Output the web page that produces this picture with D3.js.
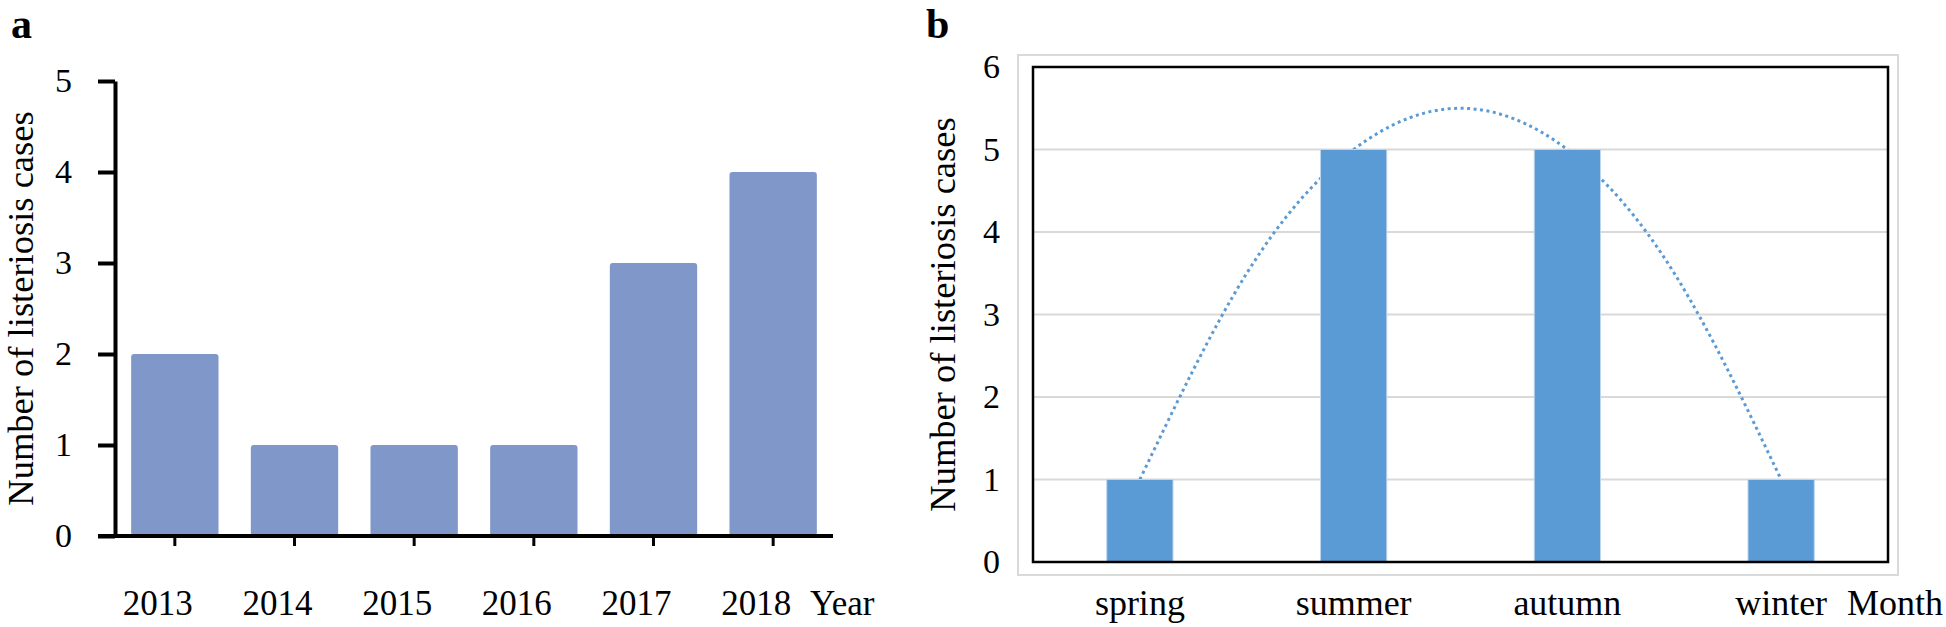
<!DOCTYPE html>
<html>
<head>
<meta charset="utf-8">
<script src="https://cdn.jsdelivr.net/npm/d3@7"></script>
<style>
  body { margin: 0; background: #fff; }
  svg text { font-family: "Liberation Serif", "Times New Roman", serif; fill: #000; }
</style>
</head>
<body>
<div id="chart"></div>
<script>
// panel a: cases per year
const years = ["2013", "2014", "2015", "2016", "2017", "2018"];
const yearCases = [2, 1, 1, 1, 3, 4];
const yearTicks = [0, 1, 2, 3, 4, 5];

// panel b: cases per season
const seasons = ["spring", "summer", "autumn", "winter"];
const seasonCases = [1, 5, 5, 1];
const seasonTicks = [0, 1, 2, 3, 4, 5, 6];

// dotted trend line in panel b
// (position counted in category steps from spring, value)
const trendPos = [0, 0.5, 1, 1.5, 2, 2.5, 3];
const trendVals = [1, 3.5, 5, 5.5, 5, 3.5, 1];

const yTitle = "Number of listeriosis cases";

const svg = d3
  .select("#chart")
  .append("svg")
  .attr("width", 1946)
  .attr("height", 627)
  .attr("viewBox", [0, 0, 1946, 627]);

/* Panel a */
function drawYearPanel() {
  const g = svg.append("g").attr("data-name", "panel-a");

  const x = d3
    .scaleBand()
    .domain(years)
    .range([115, 833])
    .paddingInner(0.27)
    .paddingOuter(0.135);
  const y = d3.scaleLinear().domain([0, 5]).range([536, 81]);

  g.append("text")
    .attr("x", 11)
    .attr("y", 38)
    .attr("font-size", 42)
    .attr("font-weight", "bold")
    .text("a");

  g.selectAll("rect.bar")
    .data(yearCases)
    .join("rect")
    .attr("class", "bar")
    .attr("x", (d, i) => x(years[i]))
    .attr("y", (d) => y(d))
    .attr("width", x.bandwidth())
    .attr("height", (d) => y(0) - y(d))
    .attr("rx", 3)
    .attr("fill", "#7f97c9");

  // y axis
  const yAxis = g
    .append("g")
    .attr("transform", "translate(115,0)")
    .call(
      d3
        .axisLeft(y)
        .tickValues(yearTicks)
        .tickFormat(d3.format("d"))
        .tickSizeInner(17)
        .tickSizeOuter(0)
        .tickPadding(26)
    );
  yAxis.attr("font-family", null).attr("font-size", null);
  yAxis.select(".domain").attr("stroke-width", 4).attr("stroke", "#000");
  yAxis.selectAll(".tick line").attr("stroke-width", 4).attr("stroke", "#000");
  yAxis.selectAll(".tick text").attr("font-size", 34).attr("fill", "#000");

  // x axis line + little stubs under each bar
  g.append("line")
    .attr("x1", 98)
    .attr("x2", 833)
    .attr("y1", y(0))
    .attr("y2", y(0))
    .attr("stroke", "#000")
    .attr("stroke-width", 4);

  g.selectAll("line.stub")
    .data(years)
    .join("line")
    .attr("class", "stub")
    .attr("x1", (d) => x(d) + x.bandwidth() / 2)
    .attr("x2", (d) => x(d) + x.bandwidth() / 2)
    .attr("y1", y(0) + 2)
    .attr("y2", y(0) + 10)
    .attr("stroke", "#000")
    .attr("stroke-width", 3);

  g.selectAll("text.year")
    .data(years)
    .join("text")
    .attr("class", "year")
    .attr("x", (d) => x(d) + x.bandwidth() / 2 - 17)
    .attr("y", 615)
    .attr("text-anchor", "middle")
    .attr("font-size", 35)
    .text((d) => d);

  g.append("text")
    .attr("x", 810)
    .attr("y", 615)
    .attr("font-size", 35)
    .text("Year");

  g.append("text")
    .attr("transform", "translate(33," + (y(0) + y(5)) / 2 + ") rotate(-90)")
    .attr("text-anchor", "middle")
    .attr("font-size", 36.5)
    .text(yTitle);
}

/* Panel b */
function drawSeasonPanel() {
  const g = svg.append("g").attr("data-name", "panel-b");

  const x = d3
    .scaleBand()
    .domain(seasons)
    .range([1033, 1888])
    .paddingInner(0.69)
    .paddingOuter(0.345);
  const y = d3.scaleLinear().domain([0, 6]).range([562, 67]);

  g.append("text")
    .attr("x", 926)
    .attr("y", 38)
    .attr("font-size", 42)
    .attr("font-weight", "bold")
    .text("b");

  // light chart-area border
  g.append("rect")
    .attr("x", 1018)
    .attr("y", 55)
    .attr("width", 880)
    .attr("height", 520)
    .attr("fill", "none")
    .attr("stroke", "#d9d9d9")
    .attr("stroke-width", 2);

  // gridlines
  g.selectAll("line.grid")
    .data(seasonTicks.slice(1, -1))
    .join("line")
    .attr("class", "grid")
    .attr("x1", 1033)
    .attr("x2", 1888)
    .attr("y1", (d) => y(d))
    .attr("y2", (d) => y(d))
    .attr("stroke", "#d9d9d9")
    .attr("stroke-width", 2);

  // trend line sits behind the bars
  const x0 = x(seasons[0]) + x.bandwidth() / 2;
  const trend = d3
    .line()
    .x((d, i) => x0 + trendPos[i] * x.step())
    .y((d) => y(d))
    .curve(d3.curveNatural);

  g.append("path")
    .attr("d", trend(trendVals))
    .attr("fill", "none")
    .attr("stroke", "#5b9bd5")
    .attr("stroke-width", 3)
    .attr("stroke-dasharray", "3 3.5");

  g.selectAll("rect.bar")
    .data(seasonCases)
    .join("rect")
    .attr("class", "bar")
    .attr("x", (d, i) => x(seasons[i]))
    .attr("y", (d) => y(d))
    .attr("width", x.bandwidth())
    .attr("height", (d) => y(0) - y(d))
    .attr("fill", "#5b9bd5")
    .attr("stroke", "#bcd5ee")
    .attr("stroke-width", 1);

  // plot frame
  g.append("rect")
    .attr("x", 1033)
    .attr("y", 67)
    .attr("width", 855)
    .attr("height", 495)
    .attr("fill", "none")
    .attr("stroke", "#000")
    .attr("stroke-width", 2.5);

  const yAxis = g
    .append("g")
    .attr("transform", "translate(1033,0)")
    .call(
      d3
        .axisLeft(y)
        .tickValues(seasonTicks)
        .tickFormat(d3.format("d"))
        .tickSize(0)
        .tickPadding(33)
    );
  yAxis.attr("font-family", null).attr("font-size", null);
  yAxis.select(".domain").remove();
  yAxis.selectAll(".tick text").attr("font-size", 34).attr("fill", "#000");

  g.selectAll("text.season")
    .data(seasons)
    .join("text")
    .attr("class", "season")
    .attr("x", (d) => x(d) + x.bandwidth() / 2)
    .attr("y", 615)
    .attr("text-anchor", "middle")
    .attr("font-size", 36)
    .text((d) => d);

  g.append("text")
    .attr("x", 1847)
    .attr("y", 615)
    .attr("font-size", 36)
    .text("Month");

  g.append("text")
    .attr("transform", "translate(955," + (y(0) + y(6)) / 2 + ") rotate(-90)")
    .attr("text-anchor", "middle")
    .attr("font-size", 36.5)
    .text(yTitle);
}

try {
  drawYearPanel();
  drawSeasonPanel();
} catch (error) {
  console.error("Error rendering chart:", error);
}
</script>
</body>
</html>
